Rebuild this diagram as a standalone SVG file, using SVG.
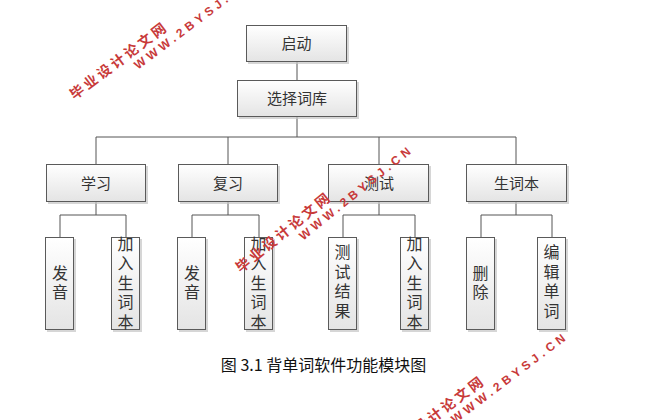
<svg xmlns="http://www.w3.org/2000/svg" width="652" height="420" viewBox="0 0 652 420">
<defs>
<linearGradient id="g" x1="0" y1="0" x2="0" y2="1">
<stop offset="0" stop-color="#ffffff"/>
<stop offset="1" stop-color="#e4e4e4"/>
</linearGradient>
<style>
.box{fill:url(#g);stroke:#5a5a5a;stroke-width:1}
.sh{fill:#c4c4c4;opacity:0.7}
.t{font-family:"Noto Sans CJK SC","Liberation Sans",sans-serif;font-size:15px;fill:#333;text-anchor:middle}
.lt{font-family:"Noto Sans CJK SC","Liberation Sans",sans-serif;font-size:16px;fill:#333;text-anchor:middle}
.cap{font-family:"Noto Sans CJK SC","Liberation Sans",sans-serif;font-size:16px;fill:#111;text-anchor:middle}
.conn line,.conn polyline{stroke:#555;stroke-width:1;fill:none}
.wm1{font-family:"Noto Sans CJK SC",sans-serif;font-weight:bold;font-size:14px;letter-spacing:3px;fill:#c83a3a}
.wm2{font-family:"Liberation Sans",sans-serif;font-weight:bold;font-size:12px;letter-spacing:4px;fill:#c83a3a}
</style>
</defs>
<rect width="652" height="420" fill="#ffffff"/>

<g id="connectors" class="conn">
<line x1="297" y1="62" x2="297" y2="80"/>
<line x1="297" y1="117" x2="297" y2="137"/>
<polyline points="96,164 96,137 516,137 516,164"/>
<line x1="228" y1="137" x2="228" y2="164"/>
<line x1="379" y1="137" x2="379" y2="164"/>
<line x1="96" y1="202" x2="96" y2="215"/>
<polyline points="60,237 60,215 126,215 126,237"/>
<line x1="228" y1="202" x2="228" y2="215"/>
<polyline points="192,237 192,215 259,215 259,237"/>
<line x1="379" y1="202" x2="379" y2="215"/>
<polyline points="343,237 343,215 415,215 415,237"/>
<line x1="516" y1="202" x2="516" y2="215"/>
<polyline points="481,237 481,215 552,215 552,237"/>
</g>

<g id="n-qidong"><rect class="sh" x="248" y="27" width="101" height="37"/><rect class="box" x="246.5" y="25.5" width="100" height="36"/><text class="t" x="296.5" y="49">启动</text></g>
<g id="n-xuanze"><rect class="sh" x="239" y="82" width="120" height="37"/><rect class="box" x="237.5" y="80.5" width="119" height="36"/><text class="t" x="297" y="104">选择词库</text></g>

<g id="n-xuexi"><rect class="sh" x="48" y="166" width="100" height="38"/><rect class="box" x="46.5" y="164.5" width="99" height="37"/><text class="t" x="96" y="188.5">学习</text></g>
<g id="n-fuxi"><rect class="sh" x="180" y="166" width="100" height="38"/><rect class="box" x="178.5" y="164.5" width="99" height="37"/><text class="t" x="228" y="188.5">复习</text></g>
<g id="n-ceshi"><rect class="sh" x="330" y="166" width="101" height="38"/><rect class="box" x="328.5" y="164.5" width="100" height="37"/><text class="t" x="379" y="188.5">测试</text></g>
<g id="n-shengciben"><rect class="sh" x="468" y="166" width="101" height="38"/><rect class="box" x="466.5" y="164.5" width="100" height="37"/><text class="t" x="516.5" y="188.5">生词本</text></g>

<g id="n-fayin1"><rect class="sh" x="47" y="239" width="29" height="93"/><rect class="box" x="45.5" y="237.5" width="28" height="92"/><text class="lt" x="60"><tspan x="60" y="278.5">发</tspan><tspan x="60" y="298">音</tspan></text></g>
<g id="n-jiaru1"><rect class="sh" x="113" y="239" width="29" height="93"/><rect class="box" x="111.5" y="237.5" width="28" height="92"/><text class="lt"><tspan x="125.5" y="249.5">加</tspan><tspan x="125.5" y="269">入</tspan><tspan x="125.5" y="288.5">生</tspan><tspan x="125.5" y="308">词</tspan><tspan x="125.5" y="327.5">本</tspan></text></g>
<g id="n-fayin2"><rect class="sh" x="179" y="239" width="29" height="93"/><rect class="box" x="177.5" y="237.5" width="28" height="92"/><text class="lt"><tspan x="192" y="278.5">发</tspan><tspan x="192" y="298">音</tspan></text></g>
<g id="n-jiaru2"><rect class="sh" x="246" y="239" width="29" height="93"/><rect class="box" x="244.5" y="237.5" width="28" height="92"/><text class="lt"><tspan x="258.5" y="249.5">加</tspan><tspan x="258.5" y="269">入</tspan><tspan x="258.5" y="288.5">生</tspan><tspan x="258.5" y="308">词</tspan><tspan x="258.5" y="327.5">本</tspan></text></g>
<g id="n-ceshijieguo"><rect class="sh" x="330" y="239" width="29" height="93"/><rect class="box" x="328.5" y="237.5" width="28" height="92"/><text class="lt"><tspan x="342.5" y="258">测</tspan><tspan x="342.5" y="277.5">试</tspan><tspan x="342.5" y="297">结</tspan><tspan x="342.5" y="316.5">果</tspan></text></g>
<g id="n-jiaru3"><rect class="sh" x="402" y="239" width="29" height="93"/><rect class="box" x="400.5" y="237.5" width="28" height="92"/><text class="lt"><tspan x="414.5" y="249.5">加</tspan><tspan x="414.5" y="269">入</tspan><tspan x="414.5" y="288.5">生</tspan><tspan x="414.5" y="308">词</tspan><tspan x="414.5" y="327.5">本</tspan></text></g>
<g id="n-shanchu"><rect class="sh" x="468" y="239" width="29" height="93"/><rect class="box" x="466.5" y="237.5" width="28" height="92"/><text class="lt"><tspan x="480.5" y="278.5">删</tspan><tspan x="480.5" y="298">除</tspan></text></g>
<g id="n-bianji"><rect class="sh" x="539" y="239" width="29" height="93"/><rect class="box" x="537.5" y="237.5" width="28" height="92"/><text class="lt"><tspan x="551.5" y="258">编</tspan><tspan x="551.5" y="277.5">辑</tspan><tspan x="551.5" y="297">单</tspan><tspan x="551.5" y="316.5">词</tspan></text></g>

<text id="caption" class="cap" x="323.5" y="371">图 3.1 背单词软件功能模块图</text>

<g id="watermarks">
<g transform="translate(77,92) rotate(-37)"><text class="wm1" x="-7" y="5">毕业设计论文网</text><text class="wm2" x="62" y="19">WWW.2BYSJ.CN</text></g>
<g transform="translate(243,265) rotate(-39)"><text class="wm1" x="-7" y="5">毕业设计论文网</text><text class="wm2" x="62" y="19">WWW.2BYSJ.CN</text></g>
<g transform="translate(394,446) rotate(-37)"><text class="wm1" x="-7" y="5">毕业设计论文网</text><text class="wm2" x="62" y="19">WWW.2BYSJ.CN</text></g>
</g>
</svg>
